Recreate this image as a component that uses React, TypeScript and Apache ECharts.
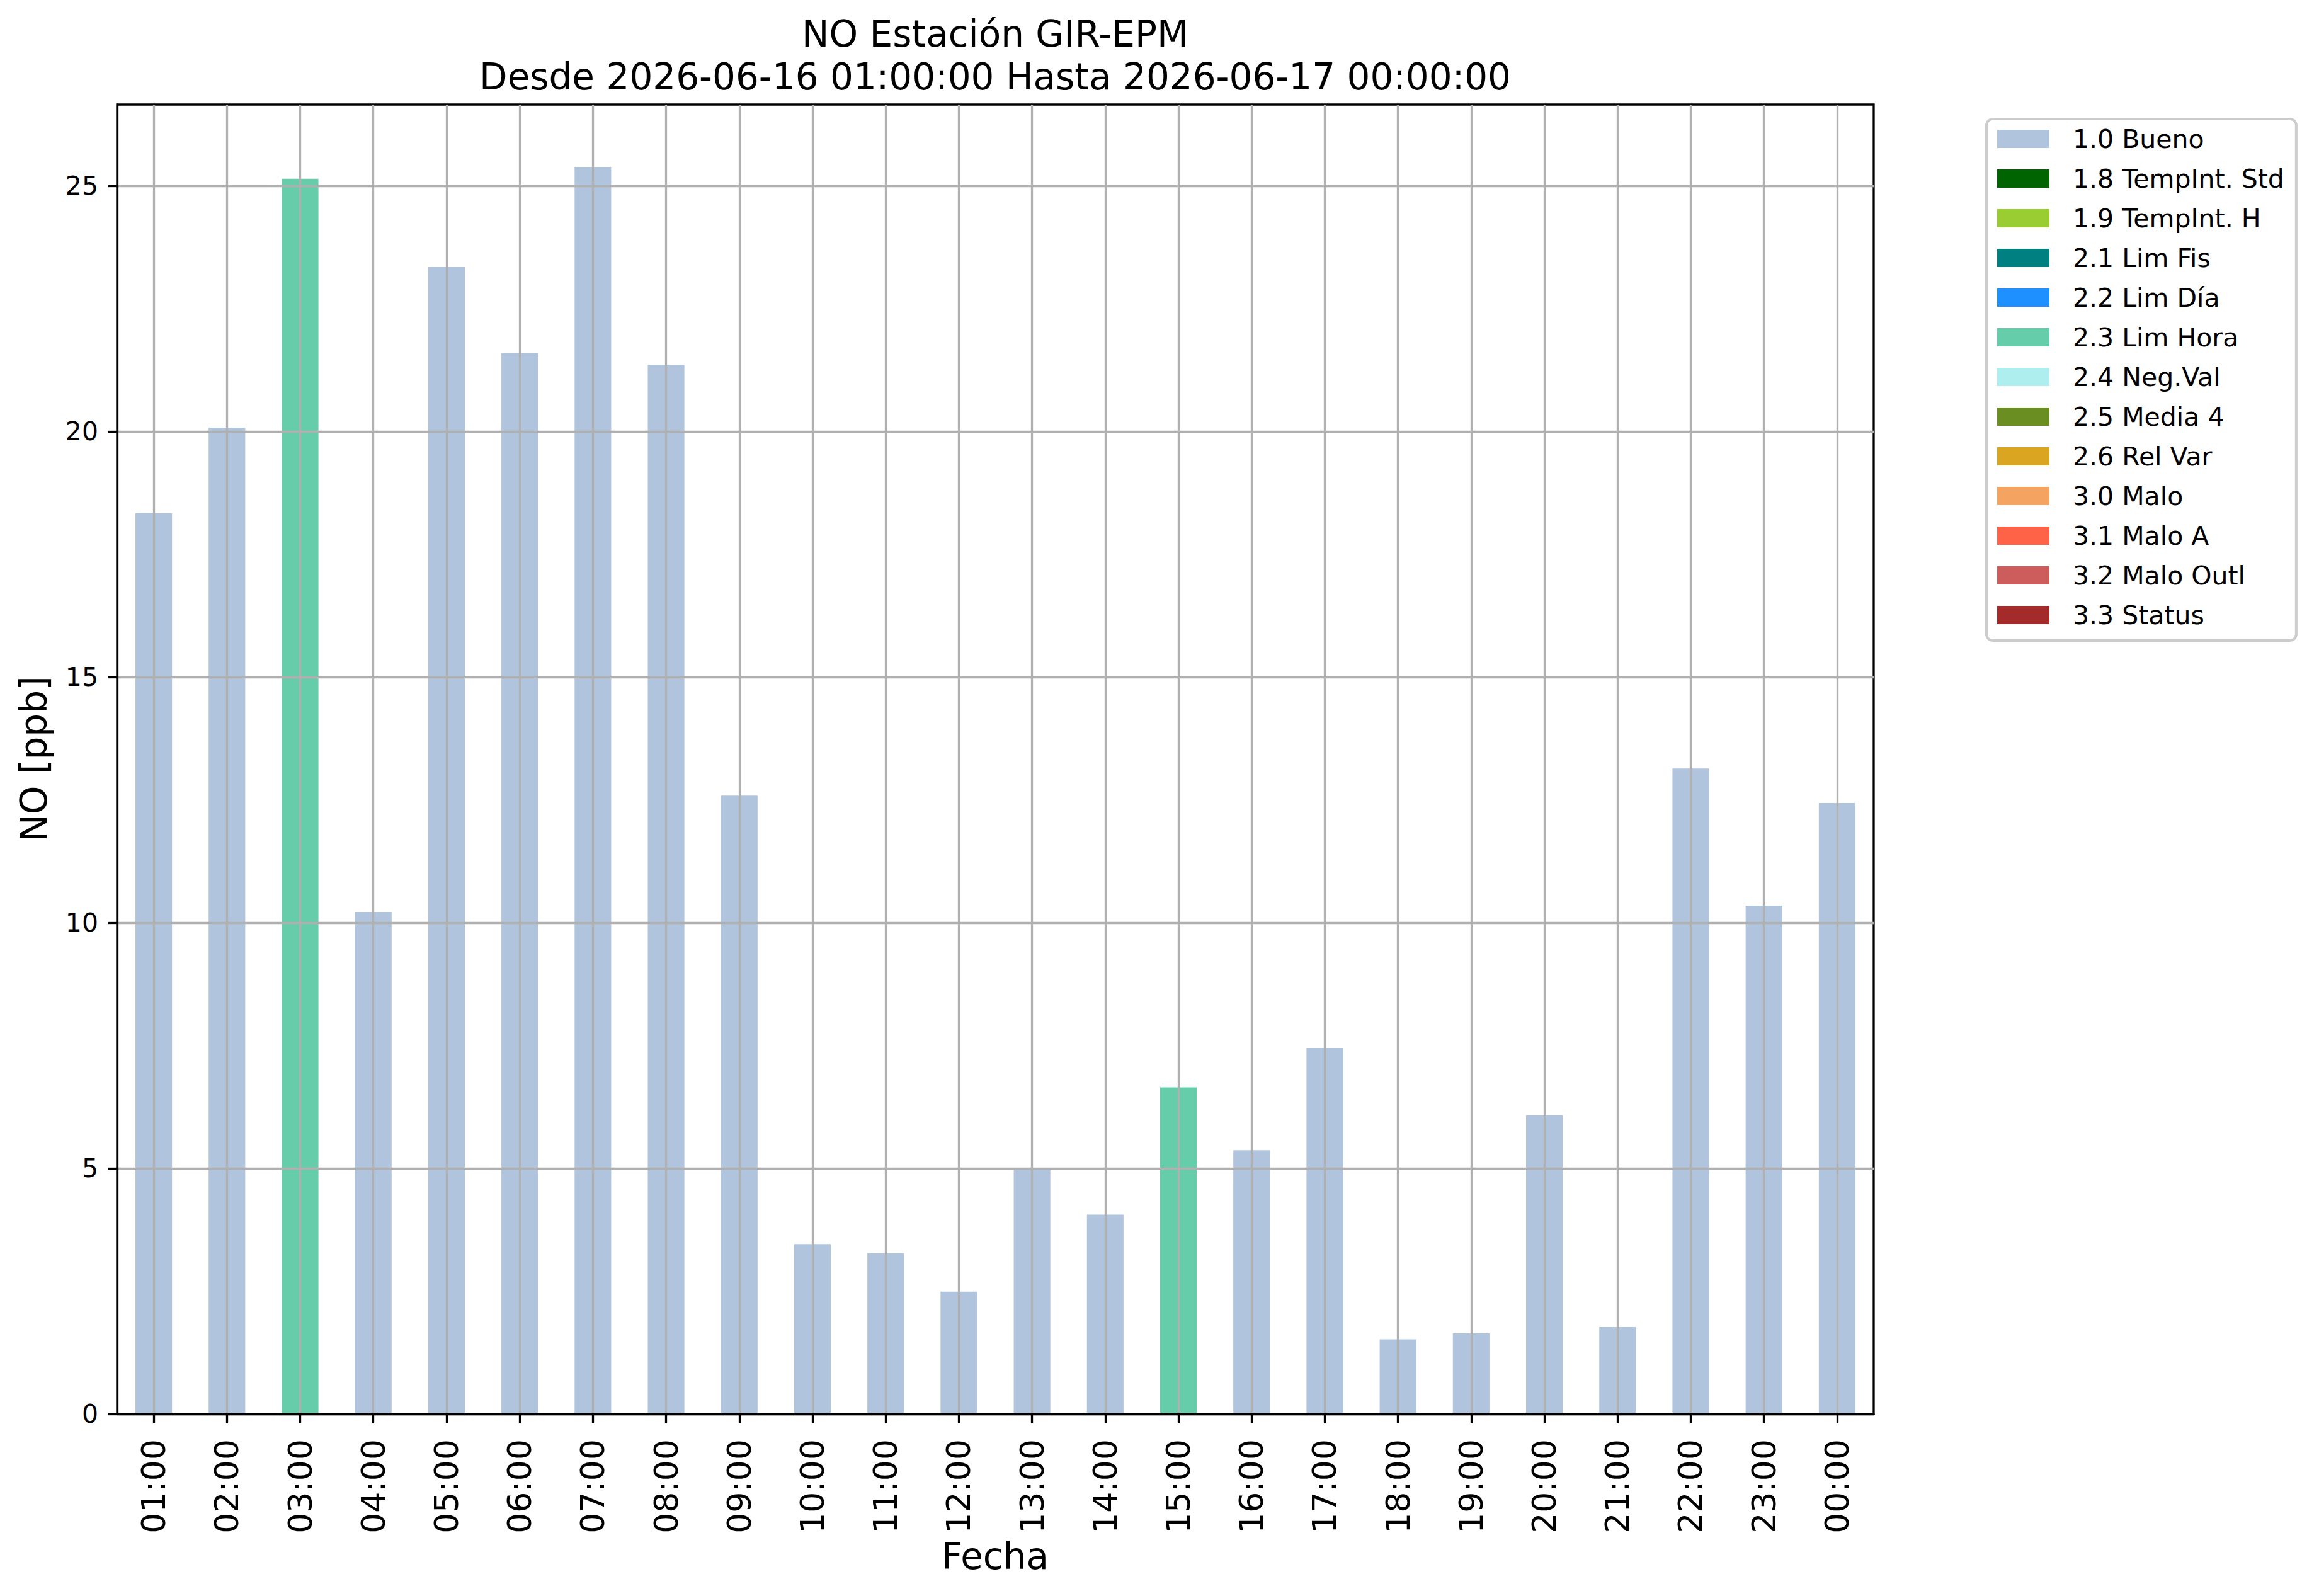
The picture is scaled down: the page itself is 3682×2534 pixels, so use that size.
import React, { useEffect, useRef } from "react";
import * as echarts from "echarts";

const hours = [
  "01:00", "02:00", "03:00", "04:00", "05:00", "06:00", "07:00", "08:00",
  "09:00", "10:00", "11:00", "12:00", "13:00", "14:00", "15:00", "16:00",
  "17:00", "18:00", "19:00", "20:00", "21:00", "22:00", "23:00", "00:00",
];

const noValues = [
  18.34, 20.08, 25.15, 10.22, 23.35, 21.6, 25.39, 21.36,
  12.59, 3.46, 3.27, 2.49, 4.99, 4.06, 6.65, 5.37,
  7.45, 1.52, 1.64, 6.08, 1.77, 13.14, 10.35, 12.44,
];

const hourFlags = [
  "1.0 Bueno", "1.0 Bueno", "2.3 Lim Hora", "1.0 Bueno", "1.0 Bueno", "1.0 Bueno",
  "1.0 Bueno", "1.0 Bueno", "1.0 Bueno", "1.0 Bueno", "1.0 Bueno", "1.0 Bueno",
  "1.0 Bueno", "1.0 Bueno", "2.3 Lim Hora", "1.0 Bueno", "1.0 Bueno", "1.0 Bueno",
  "1.0 Bueno", "1.0 Bueno", "1.0 Bueno", "1.0 Bueno", "1.0 Bueno", "1.0 Bueno",
];

const flagNames = [
  "1.0 Bueno", "1.8 TempInt. Std", "1.9 TempInt. H", "2.1 Lim Fis", "2.2 Lim Día",
  "2.3 Lim Hora", "2.4 Neg.Val", "2.5 Media 4", "2.6 Rel Var", "3.0 Malo",
  "3.1 Malo A", "3.2 Malo Outl", "3.3 Status",
];

const flagColors = [
  "#B0C4DE", "#006400", "#9ACD32", "#008080", "#1E90FF",
  "#66CDAA", "#AFEEEE", "#6B8E23", "#DAA520", "#F4A460",
  "#FF6347", "#CD5C5C", "#A52A2A",
];

const yTicks = [0, 5, 10, 15, 20, 25];
const yMax = 26.66;

const titleLine1 = "NO Estación GIR-EPM";
const titleLine2 = "Desde 2026-06-16 01:00:00 Hasta 2026-06-17 00:00:00";
const xName = "Fecha";
const yName = "NO [ppb]";

const FONT = "'DejaVu Sans', sans-serif";

export default function App() {
  const ref = useRef<HTMLDivElement>(null);

  useEffect(() => {
    if (!ref.current) return;
    const chart = echarts.init(ref.current, null, { renderer: "svg" });

    const gridLeft = 186;
    const gridTop = 166;
    const gridRight = 2975;
    const gridBottom = 2245;
    const lw = 3.3;

    const series = flagNames.map((name, k) => ({
      name,
      type: "bar",
      stack: "total",
      barWidth: "50%",
      itemStyle: { color: flagColors[k] },
      emphasis: { disabled: true },
      data: noValues.map((v, i) => (hourFlags[i] === name ? v : "-")),
    }));

    chart.setOption({
      animation: false,
      backgroundColor: "#ffffff",
      grid: {
        left: gridLeft,
        top: gridTop,
        width: gridRight - gridLeft,
        height: gridBottom - gridTop,
        show: true,
        borderColor: "#000000",
        borderWidth: lw,
        backgroundColor: "transparent",
      },
      xAxis: {
        type: "category",
        data: hours,
        z: 5,
        boundaryGap: true,
        axisLine: { show: true, lineStyle: { color: "#000", width: lw } },
        axisTick: {
          show: true,
          alignWithLabel: true,
          length: 15,
          lineStyle: { color: "#000", width: lw },
        },
        axisLabel: {
          rotate: 90,
          interval: 0,
          margin: 40,
          fontFamily: FONT,
          fontSize: 52,
          color: "#000",
        },
        splitLine: {
          show: true,
          alignWithLabel: true,
          interval: 0,
          lineStyle: { color: "#b0b0b0", width: lw },
        },
      },
      yAxis: {
        type: "value",
        min: 0,
        max: yMax,
        interval: 5,
        z: 5,
        axisLine: { show: true, lineStyle: { color: "#000", width: lw } },
        axisTick: {
          show: true,
          length: 14,
          customValues: yTicks,
          lineStyle: { color: "#000", width: lw },
        },
        axisLabel: {
          customValues: yTicks,
          margin: 30,
          fontFamily: FONT,
          fontSize: 41,
          color: "#000",
        },
        splitLine: { show: true, lineStyle: { color: "#b0b0b0", width: lw } },
      },
      legend: {
        data: flagNames,
        orient: "vertical",
        left: 3154,
        top: 189,
        icon: "rect",
        itemWidth: 83,
        itemHeight: 29,
        itemGap: 22,
        selectedMode: false,
        padding: [11, 19, 20, 17],
        backgroundColor: "rgba(255,255,255,0.8)",
        borderColor: "#cccccc",
        borderWidth: 4,
        borderRadius: 10,
        textStyle: {
          fontFamily: FONT,
          fontSize: 41,
          lineHeight: 41,
          color: "#000",
          padding: [0, 0, 0, 32],
        },
      },
      graphic: [
        {
          type: "text",
          x: 1580,
          y: 54,
          style: { text: titleLine1, font: `58px ${FONT}`, fill: "#000", textAlign: "center", textVerticalAlign: "middle" },
        },
        {
          type: "text",
          x: 1580,
          y: 122,
          style: { text: titleLine2, font: `58px ${FONT}`, fill: "#000", textAlign: "center", textVerticalAlign: "middle" },
        },
        {
          type: "text",
          x: 1580,
          y: 2471,
          style: { text: xName, font: `58px ${FONT}`, fill: "#000", textAlign: "center", textVerticalAlign: "middle" },
        },
        {
          type: "text",
          x: 54,
          y: 1205,
          rotation: Math.PI / 2,
          style: { text: yName, font: `58px ${FONT}`, fill: "#000", textAlign: "center", textVerticalAlign: "middle" },
        },
      ],
      series,
    });

    return () => chart.dispose();
  }, []);

  return (
    <div
      ref={ref}
      style={{ position: "absolute", left: 0, top: 0, width: 3682, height: 2534, background: "#fff" }}
    />
  );
}
